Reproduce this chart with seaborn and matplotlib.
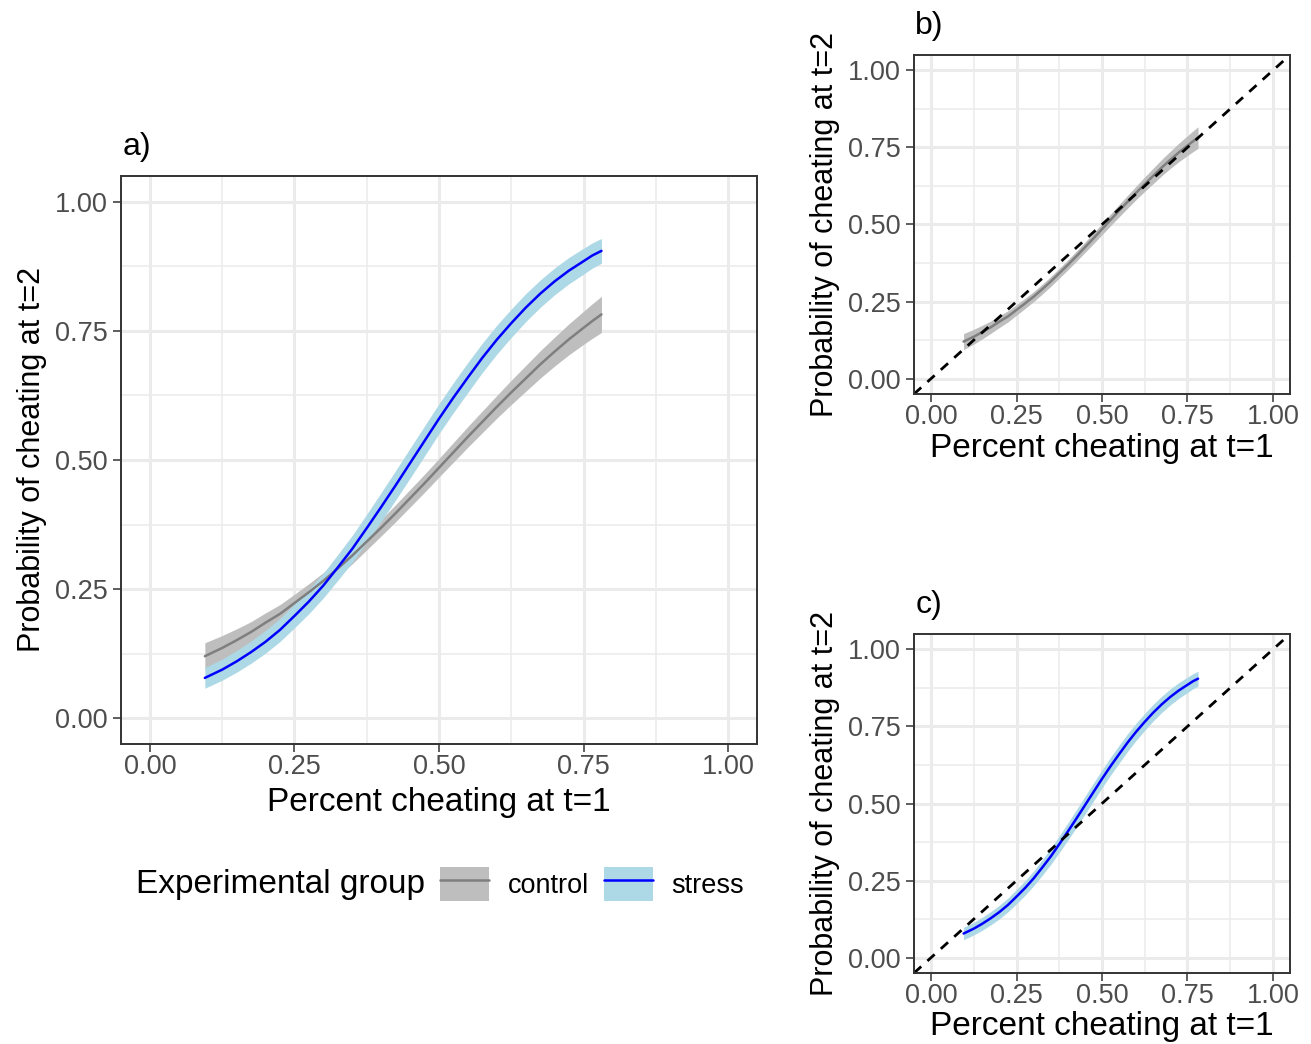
import numpy as np
import pandas as pd
import matplotlib
matplotlib.use("Agg")
import matplotlib.pyplot as plt
import seaborn as sns
from matplotlib.patches import Patch
from matplotlib.lines import Line2D

# valores (curvas ajustadas y semiancho de la banda)
x_pts = [0.095, 0.125, 0.15, 0.175, 0.20, 0.225, 0.25, 0.275, 0.30, 0.325, 0.35, 0.375,
         0.40, 0.425, 0.45, 0.475, 0.50, 0.525, 0.55, 0.575, 0.60, 0.625, 0.65, 0.675,
         0.70, 0.725, 0.75, 0.765, 0.781]

control_fit = [0.120, 0.136, 0.151, 0.167, 0.185, 0.202, 0.223, 0.244, 0.266, 0.290, 0.315, 0.342,
               0.369, 0.397, 0.426, 0.455, 0.485, 0.515, 0.545, 0.574, 0.603, 0.631, 0.658, 0.685,
               0.710, 0.734, 0.756, 0.769, 0.782]
control_hw = [0.026, 0.024, 0.022, 0.020, 0.019, 0.018, 0.017, 0.0165, 0.016, 0.016, 0.016, 0.016,
              0.016, 0.0165, 0.017, 0.0175, 0.018, 0.019, 0.020, 0.021, 0.022, 0.0235, 0.025, 0.0265,
              0.028, 0.030, 0.032, 0.0335, 0.035]

stress_fit = [0.078, 0.094, 0.110, 0.128, 0.148, 0.171, 0.198, 0.226, 0.257, 0.292, 0.328, 0.368,
              0.409, 0.451, 0.494, 0.537, 0.580, 0.621, 0.660, 0.698, 0.733, 0.765, 0.795, 0.822,
              0.846, 0.867, 0.885, 0.896, 0.905]
stress_hw = [0.020, 0.0205, 0.021, 0.0215, 0.022, 0.0225, 0.023, 0.0235, 0.024, 0.025, 0.026, 0.027,
             0.028, 0.0285, 0.029, 0.029, 0.029, 0.029, 0.029, 0.0285, 0.028, 0.0275, 0.027, 0.0265,
             0.026, 0.0255, 0.025, 0.0245, 0.024]

tick_vals = [0.0, 0.25, 0.50, 0.75, 1.0]
tick_labels = ["0.00", "0.25", "0.50", "0.75", "1.00"]
minor_vals = [0.125, 0.375, 0.625, 0.875]

groups = ["control", "stress"]
line_colors = {"control": "#7F7F7F", "stress": "#0000FF"}
band_colors = {"control": "#BEBEBE", "stress": "#ADD8E6"}

xlab = "Percent cheating at t=1"
ylab = "Probability of cheating at t=2"

df = pd.concat([
    pd.DataFrame({"x": x_pts, "fit": control_fit, "hw": control_hw, "group": "control"}),
    pd.DataFrame({"x": x_pts, "fit": stress_fit, "hw": stress_hw, "group": "stress"}),
], ignore_index=True)
df["lo"] = df["fit"] - df["hw"]
df["hi"] = df["fit"] + df["hw"]

sns.set_theme(style="ticks")
plt.rcParams['font.family'] = ['Liberation Sans', 'DejaVu Sans']
plt.rcParams['text.color'] = 'black'

LW = 1.8


def estilo(ax, xpad):
    ax.set_xlim(-0.05, 1.05)
    ax.set_ylim(-0.05, 1.05)
    ax.set_xticks(tick_vals)
    ax.set_xticklabels(tick_labels)
    ax.set_yticks(tick_vals)
    ax.set_yticklabels(tick_labels)
    ax.set_xticks(minor_vals, minor=True)
    ax.set_yticks(minor_vals, minor=True)
    ax.grid(which="major", color="#EBEBEB", lw=2.2)
    ax.grid(which="minor", color="#EBEBEB", lw=1.1)
    ax.set_axisbelow(True)
    ax.tick_params(which="minor", length=0)
    ax.tick_params(which="major", length=5.5, width=1.1, color="#333333",
                   labelsize=19.5, labelcolor="#4D4D4D")
    ax.tick_params(axis="x", pad=2)
    ax.tick_params(axis="y", pad=4)
    for sp in ax.spines.values():
        sp.set_color("#333333")
        sp.set_linewidth(1.4)
    ax.set_xlabel(xlab, fontsize=24, color="black", labelpad=xpad)
    ax.set_ylabel(ylab, fontsize=22, color="black", labelpad=6)


def dibujar(ax, grupos, diagonal=False, xpad=5):
    for g in grupos:
        d = df[df["group"] == g]
        ax.fill_between(d["x"], d["lo"], d["hi"], color=band_colors[g], lw=0)
    sub = df[df["group"].isin(grupos)]
    sns.lineplot(data=sub, x="x", y="fit", hue="group", palette=line_colors,
                 lw=LW, legend=False, ax=ax, sort=True, estimator=None)
    if diagonal:
        ax.axline((0, 0), slope=1, color="black", lw=2.0, ls=(0, (3.5, 3)))
    estilo(ax, xpad)


fig = plt.figure(figsize=(13.11, 10.44), dpi=100)
W, H = 1311, 1044
ax_a = fig.add_axes([121 / W, (H - 744) / H, 636 / W, 568 / H])
ax_b = fig.add_axes([914 / W, (H - 394) / H, 376 / W, 339 / H])
ax_c = fig.add_axes([914 / W, (H - 973) / H, 376 / W, 339 / H])

dibujar(ax_a, groups)
dibujar(ax_b, ["control"], diagonal=True, xpad=1.5)
dibujar(ax_c, ["stress"], diagonal=True, xpad=1.5)

for ax, tag in [(ax_a, "a)"), (ax_b, "b)"), (ax_c, "c)")]:
    ax.annotate(tag, xy=(0, 1), xycoords="axes fraction", xytext=(1, 10),
                textcoords="offset points", ha="left", va="bottom", fontsize=23,
                color="black")

# leyenda al pie del panel a
fig.text(136 / W, 1 - 884 / H, "Experimental group", fontsize=24, ha="left", va="center",
         color="black")
handles = [(Patch(facecolor=band_colors[g], edgecolor="none"),
            Line2D([], [], color=line_colors[g], lw=LW)) for g in groups]
leg = fig.legend(handles, groups, loc="center left", bbox_to_anchor=(440 / W, 1 - 884 / H),
                 ncol=2, frameon=False, fontsize=19.5, borderpad=0, borderaxespad=0,
                 handlelength=1.8, handleheight=1.6, handletextpad=0.7, columnspacing=0.55)
for t in leg.get_texts():
    t.set_color("black")

plt.savefig("out.png", dpi=100, facecolor="white")
plt.close()
